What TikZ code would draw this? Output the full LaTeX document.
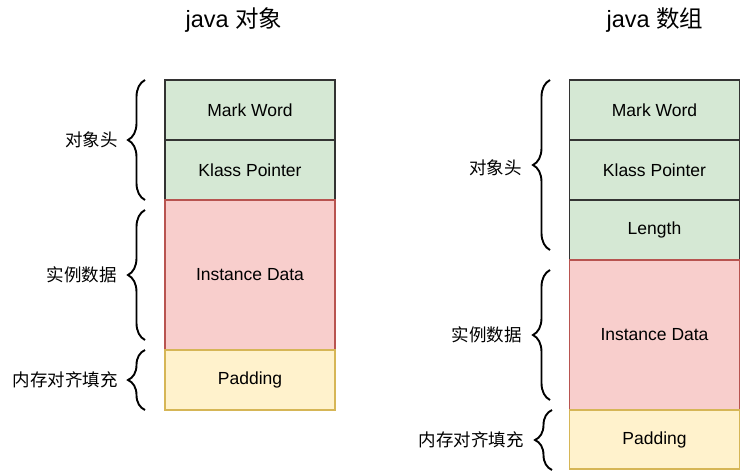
\documentclass[tikz,border=0pt]{standalone}
\usepackage{fontspec}
\setmainfont{Liberation Sans}
\newfontfamily\cjk{Noto Sans CJK SC}
\usetikzlibrary{decorations.pathreplacing}
\definecolor{gfill}{HTML}{D5E8D4}
\definecolor{gdraw}{HTML}{333333}
\definecolor{rfill}{HTML}{F8CECC}
\definecolor{rdraw}{HTML}{B85450}
\definecolor{yfill}{HTML}{FFF2CC}
\definecolor{ydraw}{HTML}{D6B656}
\tikzset{
  cell/.style={draw, line width=1.5pt, minimum width=170pt, inner sep=0pt, outer sep=0pt, anchor=north west,
    font=\fontsize{17.5}{21}\selectfont},
  gcell/.style={cell, fill=gfill, draw=gdraw, minimum height=60pt},
  rcell/.style={cell, fill=rfill, draw=rdraw, minimum height=150pt},
  ycell/.style={cell, fill=yfill, draw=ydraw, minimum height=60pt},
  lbl/.style={anchor=east, inner sep=0pt, font=\fontsize{17.5}{21}\selectfont\cjk},
  ttl/.style={inner sep=0pt, font=\fontsize{23.5}{28}\selectfont},
  brc/.style={draw, line width=1.9pt, decorate, decoration={brace, amplitude=17pt}},
}
\begin{document}
\begin{tikzpicture}[x=1pt,y=-1pt]
\useasboundingbox (0,0) rectangle (741,471);
% titles
\node[ttl] (t1) at (234,20) {java {\cjk 对象}};
\node[ttl] (t2) at (655,20) {java {\cjk 数组}};
% left column
\node[gcell] (a1) at (165,80) {Mark Word};
\node[gcell] (a2) at (165,140) {Klass Pointer};
\node[rcell] (a3) at (165,200) {Instance Data};
\node[ycell] (a4) at (165,350) {Padding};
\draw[brc] (145,200) -- (145,80);
\draw[brc] (145,340) -- (145,210);
\draw[brc] (145,410) -- (145,350);
\node[lbl] (l1) at (118,140) {对象头};
\node[lbl] (l2) at (117,275) {实例数据};
\node[lbl] (l3) at (118,380) {内存对齐填充};
% right column
\node[gcell] (b1) at (569.5,80) {Mark Word};
\node[gcell] (b2) at (569.5,140) {Klass Pointer};
\node[gcell] (b3) at (569.5,200) {Length};
\node[rcell] (b4) at (569.5,260) {Instance Data};
\node[ycell, minimum height=59pt] (b5) at (569.5,410) {Padding};
\draw[brc] (550,250) -- (550,80);
\draw[brc] (550,400) -- (550,270);
\draw[brc] (552,470) -- (552,410);
\node[lbl] (m1) at (522,168) {对象头};
\node[lbl] (m2) at (522,335) {实例数据};
\node[lbl] (m3) at (524,440) {内存对齐填充};
\end{tikzpicture}
\end{document}
